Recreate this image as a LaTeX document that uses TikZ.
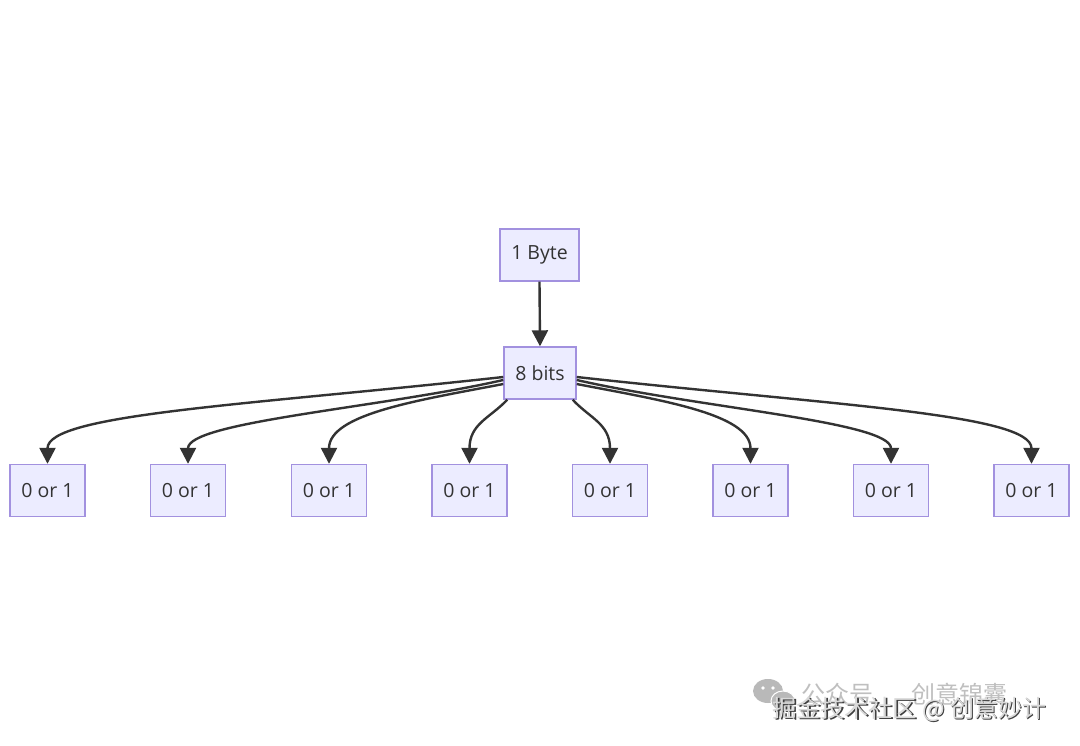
\documentclass[tikz,border=0pt]{standalone}
\usepackage{fontspec}
\setmainfont{Open Sans}
\newfontfamily\cjk{Noto Sans CJK SC}
\usetikzlibrary{arrows.meta,calc}
\definecolor{boxfill}{HTML}{ECECFF}
\definecolor{boxline}{HTML}{A291DF}
\definecolor{ink}{HTML}{333333}
\begin{document}
\begin{tikzpicture}[x=1pt,y=-1pt,
  box/.style={draw=boxline, fill=boxfill, line width=1.4pt, minimum height=52pt,
    inner sep=0pt, text=ink, font=\fontsize{19.5}{22}\selectfont},
  child/.style={box, minimum width=75pt},
  edge/.style={draw=ink, line width=2.4pt, -{Triangle[length=16pt,width=16pt]}},
  wm/.style={font=\cjk\fontsize{24}{26}\selectfont, inner sep=0pt, anchor=west}]
\fill[white] (0,0) rectangle (1080,746);
\path[use as bounding box] (0,0) rectangle (1080,746);

\node[box, minimum width=79pt] (byte) at (539.5,255) {1 Byte};
\node[box, minimum width=72pt] (bits) at (540,373) {8 bits};
\foreach \i/\x in {1/47.5,2/188,3/329,4/469.5,5/610,6/750.5,7/891,8/1031.5}
  \node[child] (c\i) at (\x,490.5) {0 or 1};

\draw[edge] (byte.south) -- (bits.north);

\draw[edge] ($(bits.west)+(0,4)$) .. controls (250,405) and ($(c1.north)+(0,-50)$) .. (c1.north);
\draw[edge] ($(bits.west)+(0,7)$) .. controls (380,408) and ($(c2.north)+(0,-42)$) .. (c2.north);
\draw[edge] ($(bits.west)+(0,11)$) .. controls (420,400) and ($(c3.north)+(0,-50)$) .. (c3.north);
\draw[edge] ($(bits.south west)+(4,0)$) .. controls (490,418) and ($(c4.north)+(0,-40)$) .. (c4.north);
\draw[edge] ($(bits.south east)+(-4,0)$) .. controls (589.5,418) and ($(c5.north)+(0,-40)$) .. (c5.north);
\draw[edge] ($(bits.east)+(0,11)$) .. controls (659.5,400) and ($(c6.north)+(0,-50)$) .. (c6.north);
\draw[edge] ($(bits.east)+(0,7)$) .. controls (699.5,408) and ($(c7.north)+(0,-42)$) .. (c7.north);
\draw[edge] ($(bits.east)+(0,4)$) .. controls (829.5,405) and ($(c8.north)+(0,-50)$) .. (c8.north);

% watermark
\fill[gray!55] (768,691) ellipse [x radius=15, y radius=12];
\fill[white] (763,688) circle (1.8) (773,688) circle (1.8);
\filldraw[fill=gray!55, draw=white, line width=1pt] (783,701) ellipse [x radius=12, y radius=10];
\node[wm, text=gray!50] (wm1) at (801,694) {公众号\hspace{1.6em}创意锦囊};
\node[wm, text=black!75] (wm2s) at (773.8,710.8) {掘金技术社区 @ 创意妙计};
\node[wm, text=gray!30] (wm2) at (772.6,709.6) {掘金技术社区 @ 创意妙计};
\end{tikzpicture}
\end{document}
